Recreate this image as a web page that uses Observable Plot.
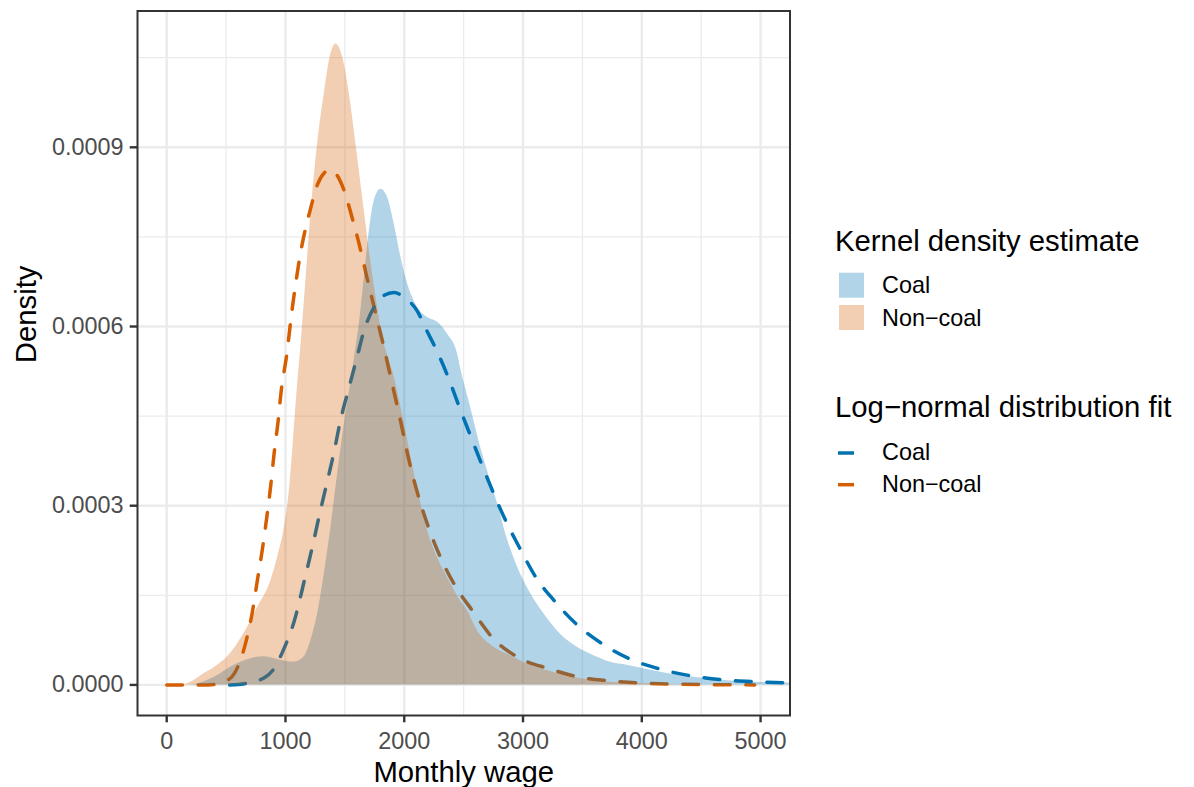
<!DOCTYPE html>
<html>
<head>
<meta charset="utf-8">
<script src="https://cdn.jsdelivr.net/npm/d3@7"></script>
<script src="https://cdn.jsdelivr.net/npm/@observablehq/plot@0.6"></script>
<style>
  html, body { margin: 0; padding: 0; background: #fff; }
  #wrap { position: relative; width: 1194px; height: 787px; font-family: "Liberation Sans", Arial, Helvetica, sans-serif; }
  #chart { position: absolute; left: 0; top: 0; }
  #legend { position: absolute; left: 800px; top: 0; }
</style>
</head>
<body>
<div id="wrap"><div id="chart"></div><svg id="legend" width="394" height="787"></svg></div>
<script>
// ---- Data ----
const coalKdeWage = [200, 261, 401, 569, 710, 822, 962, 1074, 1159, 1215, 1271, 1327, 1383, 1439, 1496, 1552, 1594, 1622, 1664, 1706, 1748, 1804, 1860, 1916, 1972, 2029, 2113, 2197, 2281, 2365, 2449, 2475, 2559, 2643, 2727, 2811, 2839, 2923, 3036, 3176, 3316, 3457, 3597, 3737, 3878, 4018, 4158, 4439, 4719, 5000, 5300];
const coalKdeDensity = [0, 0.02e-4, 0.13e-4, 0.33e-4, 0.44e-4, 0.47e-4, 0.41e-4, 0.38e-4, 0.47e-4, 0.75e-4, 1.19e-4, 1.86e-4, 2.64e-4, 3.53e-4, 4.37e-4, 5.09e-4, 5.65e-4, 6.05e-4, 6.82e-4, 7.60e-4, 8.11e-4, 8.30e-4, 8.16e-4, 7.71e-4, 7.16e-4, 6.71e-4, 6.32e-4, 6.15e-4, 6.07e-4, 5.87e-4, 5.54e-4, 5.30e-4, 4.65e-4, 3.98e-4, 3.42e-4, 2.86e-4, 2.64e-4, 2.13e-4, 1.63e-4, 1.19e-4, 0.85e-4, 0.63e-4, 0.49e-4, 0.38e-4, 0.33e-4, 0.27e-4, 0.21e-4, 0.13e-4, 0.07e-4, 0.04e-4, 0.03e-4];

const nonCoalKdeWage = [120, 176, 317, 429, 513, 597, 682, 766, 878, 934, 991, 1033, 1061, 1097, 1131, 1173, 1215, 1271, 1327, 1383, 1425, 1481, 1537, 1593, 1649, 1706, 1762, 1818, 1870, 1916, 1972, 2029, 2085, 2141, 2197, 2281, 2393, 2475, 2532, 2615, 2755, 2896, 3036, 3316, 3597, 3878, 4158, 4500];
const nonCoalKdeDensity = [0, 0.02e-4, 0.19e-4, 0.33e-4, 0.47e-4, 0.69e-4, 0.97e-4, 1.30e-4, 1.75e-4, 2.14e-4, 2.64e-4, 3.26e-4, 3.93e-4, 4.9e-4, 5.7e-4, 6.8e-4, 7.9e-4, 9.06e-4, 9.90e-4, 10.57e-4, 10.73e-4, 10.51e-4, 9.90e-4, 9.06e-4, 8.17e-4, 7.27e-4, 6.49e-4, 5.82e-4, 5.45e-4, 5.15e-4, 4.65e-4, 4.09e-4, 3.53e-4, 3.03e-4, 2.58e-4, 2.13e-4, 1.69e-4, 1.40e-4, 1.24e-4, 0.91e-4, 0.63e-4, 0.49e-4, 0.35e-4, 0.18e-4, 0.07e-4, 0.03e-4, 0.01e-4, 0];

const coalFitWage = [530, 654, 822, 906, 990, 1074, 1158, 1225, 1292, 1351, 1409, 1460, 1535, 1602, 1661, 1745, 1829, 1913, 1997, 2106, 2190, 2273, 2370, 2466, 2550, 2651, 2743, 2861, 2970, 3112, 3263, 3448, 3666, 3893, 4144, 4421, 4706, 4983, 5300];
const coalFitDensity = [0, 0.02e-4, 0.12e-4, 0.28e-4, 0.62e-4, 1.07e-4, 1.74e-4, 2.30e-4, 2.90e-4, 3.40e-4, 3.90e-4, 4.40e-4, 4.98e-4, 5.48e-4, 5.93e-4, 6.32e-4, 6.52e-4, 6.57e-4, 6.49e-4, 6.27e-4, 5.93e-4, 5.60e-4, 5.15e-4, 4.64e-4, 4.21e-4, 3.70e-4, 3.25e-4, 2.72e-4, 2.30e-4, 1.79e-4, 1.41e-4, 1.02e-4, 0.69e-4, 0.44e-4, 0.27e-4, 0.15e-4, 0.08e-4, 0.05e-4, 0.03e-4];

const nonCoalFitWage = [0, 350, 480, 569, 668, 722, 764, 806, 842, 876, 904, 937, 965, 1007, 1057, 1124, 1208, 1270, 1330, 1367, 1435, 1493, 1560, 1619, 1686, 1753, 1829, 1879, 1963, 2047, 2131, 2215, 2332, 2441, 2575, 2743, 2970, 3221, 3473, 3725, 4144, 4600, 4950];
const nonCoalFitDensity = [0, 0, 0.05e-4, 0.19e-4, 0.73e-4, 1.23e-4, 1.76e-4, 2.28e-4, 2.80e-4, 3.34e-4, 3.87e-4, 4.40e-4, 4.94e-4, 5.48e-4, 6.3e-4, 7.2e-4, 7.95e-4, 8.38e-4, 8.58e-4, 8.63e-4, 8.53e-4, 8.28e-4, 7.83e-4, 7.39e-4, 6.82e-4, 6.27e-4, 5.65e-4, 5.21e-4, 4.47e-4, 3.70e-4, 3.08e-4, 2.58e-4, 2.02e-4, 1.62e-4, 1.24e-4, 0.79e-4, 0.45e-4, 0.27e-4, 0.13e-4, 0.07e-4, 0.02e-4, 0.005e-4, 0];

const xMajorTicks = [0, 1000, 2000, 3000, 4000, 5000];
const xMinorTicks = [500, 1500, 2500, 3500, 4500];
const yMajorTicks = [0, 0.0003, 0.0006, 0.0009];
const yMinorTicks = [0.00015, 0.00045, 0.00075, 0.00105];

const groups = ["Coal", "Non\u2212coal"];
const groupColors = ["#0072B2", "#D55E00"];
const kdeLegendTitle = "Kernel density estimate";
const fitLegendTitle = "Log\u2212normal distribution fit";
const xTitle = "Monthly wage";
const yTitle = "Density";

// ---- Tables ----
const toRows = (ws, ds) => ws.map((w, i) => ({wage: w, density: ds[i]}));
const coalKde = toRows(coalKdeWage, coalKdeDensity);
const nonCoalKde = toRows(nonCoalKdeWage, nonCoalKdeDensity);
const coalFit = toRows(coalFitWage, coalFitDensity);
const nonCoalFit = toRows(nonCoalFitWage, nonCoalFitDensity);

const FONT = "'Liberation Sans', Arial, Helvetica, sans-serif";
const dash = "15.75,15.75";

const plot = Plot.plot({
  width: 800,
  height: 787,
  marginLeft: 137,
  marginRight: 10.5,
  marginTop: 10.5,
  marginBottom: 72,
  x: {domain: [-246, 5248]},
  y: {domain: [-0.0000512, 0.0011282]},
  style: {fontFamily: FONT, background: "#ffffff", overflow: "visible"},
  marks: [
    Plot.gridX(xMinorTicks, {stroke: "#EBEBEB", strokeOpacity: 1, strokeWidth: 1.3}),
    Plot.gridY(yMinorTicks, {stroke: "#EBEBEB", strokeOpacity: 1, strokeWidth: 1.3}),
    Plot.gridX(xMajorTicks, {stroke: "#EBEBEB", strokeOpacity: 1, strokeWidth: 2.4}),
    Plot.gridY(yMajorTicks, {stroke: "#EBEBEB", strokeOpacity: 1, strokeWidth: 2.4}),
    Plot.line(nonCoalFit, {x: "wage", y: "density", stroke: groupColors[1], strokeWidth: 3.5, strokeDasharray: dash, curve: "monotone-x", clip: true}),
    Plot.line(coalFit, {x: "wage", y: "density", stroke: groupColors[0], strokeWidth: 3.5, strokeDasharray: dash, curve: "monotone-x", clip: true}),
    Plot.areaY(coalKde, {x: "wage", y: "density", fill: groupColors[0], fillOpacity: 0.3, curve: "monotone-x", clip: true}),
    Plot.areaY(nonCoalKde, {x: "wage", y: "density", fill: groupColors[1], fillOpacity: 0.3, curve: "monotone-x", clip: true}),
    Plot.frame({stroke: "#333333", strokeWidth: 2}),
    // ticks
    Plot.axisX({ticks: xMajorTicks, tickSize: 7.3, tickFormat: () => "", stroke: "#333333", strokeWidth: 2.4, label: null}),
    Plot.axisY({ticks: yMajorTicks, tickSize: 7.3, tickFormat: () => "", stroke: "#333333", strokeWidth: 2.4, label: null}),
    // tick labels
    Plot.axisX({ticks: xMajorTicks, tickSize: 0, tickPadding: 17, tickFormat: d3.format("d"), fontSize: 23.4, color: "#4D4D4D", label: null}),
    Plot.axisY({ticks: yMajorTicks, tickSize: 0, tickPadding: 14, tickFormat: d3.format(".4f"), fontSize: 23.4, color: "#4D4D4D", label: null}),
    // axis titles
    Plot.text([xTitle], {frameAnchor: "bottom", dy: 66, text: d => d, fontSize: 29.3, fill: "#000000", lineAnchor: "bottom"}),
    Plot.text([yTitle], {frameAnchor: "left", dx: -101.5, text: d => d, fontSize: 29.3, fill: "#000000", rotate: -90, lineAnchor: "bottom"})
  ]
});
document.getElementById("chart").appendChild(plot);

// ---- Legend (added to the right of the plot) ----
const lg = d3.select("#legend").style("font-family", FONT);
const ox = -800;
lg.append("text").attr("x", 835 + ox).attr("y", 251).attr("font-size", 29.3).attr("fill", "#000").text(kdeLegendTitle);
groups.forEach((g, i) => {
  lg.append("rect").attr("x", 839 + ox).attr("y", 272.7 + i * 32.3).attr("width", 25).attr("height", 25)
    .attr("fill", groupColors[i]).attr("fill-opacity", 0.3);
  lg.append("text").attr("x", 882 + ox).attr("y", 293.3 + i * 32.5).attr("font-size", 23.4).attr("fill", "#000").text(g);
});
lg.append("text").attr("x", 835 + ox).attr("y", 416.7).attr("font-size", 29.3).attr("fill", "#000").text(fitLegendTitle);
groups.forEach((g, i) => {
  lg.append("line").attr("x1", 838 + ox).attr("x2", 854 + ox).attr("y1", 453 + i * 31.7).attr("y2", 453 + i * 31.7)
    .attr("stroke", groupColors[i]).attr("stroke-width", 3.5);
  lg.append("text").attr("x", 882 + ox).attr("y", 460 + i * 31.7).attr("font-size", 23.4).attr("fill", "#000").text(g);
});
</script>
</body>
</html>
